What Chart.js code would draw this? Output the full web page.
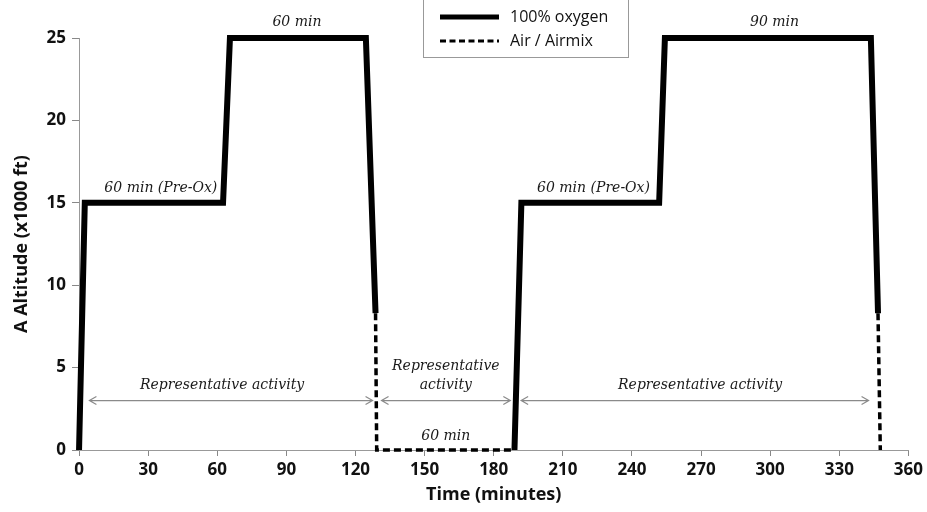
<!DOCTYPE html>
<html>
<head>
<meta charset="utf-8">
<script src="https://cdn.jsdelivr.net/npm/chart.js@4.4.1/dist/chart.umd.min.js"></script>
<style>
  html, body { margin: 0; padding: 0; background: #fff; }
  #wrap { width: 927px; height: 512px; position: relative; }
</style>
</head>
<body>
<div id="wrap"><canvas id="chart"></canvas></div>
<script>
// profile: time in minutes, altitude in x1000 ft (null = break)
const oxygenTime = [0, 2.5, 62.5, 65.5, 124.5, 128.7, null, 189, 192, 251.8, 254.3, 343.7, 346.8];
const oxygenAlt  = [0, 15,  15,   25,   25,    8.3,   null, 0,   15,  15,    25,    25,    8.3];
const airTime = [128.7, 129.2, 189, null, 346.8, 347.8];
const airAlt  = [8.3,   0,     0,   null, 8.3,   0];

const seriesLabels = ['100% oxygen', 'Air / Airmix'];

// double arrows marking the activity periods
const arrowStart = [4.5, 131.3, 191.9];
const arrowEnd   = [127.4, 187.2, 342.7];
const arrowAlt   = 3;

// italic notes: text, time, altitude (centre)
const noteText = ['60 min', '60 min (Pre-Ox)', 'Representative activity', 'Representative', 'activity', '60 min', '60 min (Pre-Ox)', 'Representative activity', '90 min'];
const noteTime = [94.6, 35.5, 62.1, 159.2, 159.2, 159.2, 223.3, 269.6, 301.9];
const noteAlt  = [25.97, 15.9, 3.95, 5.1, 3.9, 0.85, 15.9, 3.95, 25.97];

const tickFont = "'Liberation Sans Narrow', 'Open Sans', sans-serif";

function toPoints(xs, ys) {
  return xs.map((x, i) => ({ x: x, y: ys[i] }));
}

const notesPlugin = {
  id: 'notes',
  afterDatasetsDraw(chart) {
    const ctx = chart.ctx;
    const xs = chart.scales.x, ys = chart.scales.y;
    ctx.save();

    // arrows
    ctx.strokeStyle = '#8a8a8a';
    ctx.lineWidth = 1.2;
    for (let i = 0; i < arrowStart.length; i++) {
      const x1 = xs.getPixelForValue(arrowStart[i]);
      const x2 = xs.getPixelForValue(arrowEnd[i]);
      const y = ys.getPixelForValue(arrowAlt);
      ctx.beginPath();
      ctx.moveTo(x1, y); ctx.lineTo(x2, y);
      ctx.moveTo(x1 + 7, y - 4); ctx.lineTo(x1, y); ctx.lineTo(x1 + 7, y + 4);
      ctx.moveTo(x2 - 7, y - 4); ctx.lineTo(x2, y); ctx.lineTo(x2 - 7, y + 4);
      ctx.stroke();
    }

    // notes
    ctx.fillStyle = '#1a1a1a';
    ctx.font = "italic 14px 'DejaVu Serif', serif";
    ctx.textAlign = 'center';
    ctx.textBaseline = 'middle';
    noteText.forEach((t, i) => {
      ctx.fillText(t, xs.getPixelForValue(noteTime[i]), ys.getPixelForValue(noteAlt[i]));
    });

    // legend box
    const bx = 423, by = -1, bw = 205, bh = 58;
    ctx.fillStyle = '#fff';
    ctx.fillRect(bx, by, bw, bh);
    ctx.strokeStyle = '#999';
    ctx.lineWidth = 1;
    ctx.strokeRect(bx + 0.5, by + 0.5, bw, bh);
    const ds = chart.data.datasets;
    ctx.font = "16px 'Open Sans', sans-serif";
    ctx.textAlign = 'left';
    ctx.fillStyle = '#111';
    [17, 41].forEach((y, i) => {
      ctx.beginPath();
      ctx.strokeStyle = '#000';
      ctx.lineWidth = i === 0 ? 5 : 3;
      ctx.setLineDash(i === 0 ? [] : [6, 3.5]);
      ctx.moveTo(440, y); ctx.lineTo(499, y);
      ctx.stroke();
      ctx.setLineDash([]);
      ctx.fillText(ds[i].label, 510, y);
    });

    ctx.restore();
  }
};

new Chart(document.getElementById('chart'), {
  type: 'line',
  data: {
    datasets: [
      {
        label: seriesLabels[0],
        data: toPoints(oxygenTime, oxygenAlt),
        borderColor: '#000',
        borderWidth: 6,
        borderJoinStyle: 'miter',
        borderCapStyle: 'butt',
        pointRadius: 0,
        tension: 0,
        spanGaps: false,
        clip: false
      },
      {
        label: seriesLabels[1],
        data: toPoints(airTime, airAlt),
        borderColor: '#000',
        borderWidth: 3.5,
        borderDash: [7, 4],
        borderJoinStyle: 'miter',
        pointRadius: 0,
        tension: 0,
        spanGaps: false,
        clip: false
      }
    ]
  },
  options: {
    responsive: true,
    maintainAspectRatio: false,
    animation: false,
    layout: { padding: { top: 38, right: -5, bottom: 6, left: 11 } },
    plugins: {
      legend: { display: false },
      tooltip: { enabled: false }
    },
    scales: {
      x: {
        type: 'linear',
        min: 0,
        max: 360,
        ticks: {
          stepSize: 30,
          color: '#111',
          font: { family: tickFont, size: 17, weight: 'bold' },
          padding: 4
        },
        grid: { drawOnChartArea: false, drawTicks: true, tickLength: 6, color: '#888' },
        border: { color: '#999' },
        title: {
          display: true,
          text: 'Time (minutes)',
          color: '#111',
          font: { family: tickFont, size: 18, weight: 'bold' },
          padding: { top: 0, bottom: 0 }
        }
      },
      y: {
        min: 0,
        max: 25,
        ticks: {
          stepSize: 5,
          color: '#111',
          font: { family: tickFont, size: 17, weight: 'bold' },
          padding: 6
        },
        grid: { drawOnChartArea: false, drawTicks: true, tickLength: 7, color: '#888' },
        border: { color: '#999' },
        title: {
          display: true,
          text: 'A Altitude (x1000 ft)',
          color: '#111',
          font: { family: tickFont, size: 18, weight: 'bold' },
          padding: { top: 0, bottom: 8 }
        }
      }
    }
  },
  plugins: [notesPlugin]
});
</script>
</body>
</html>
